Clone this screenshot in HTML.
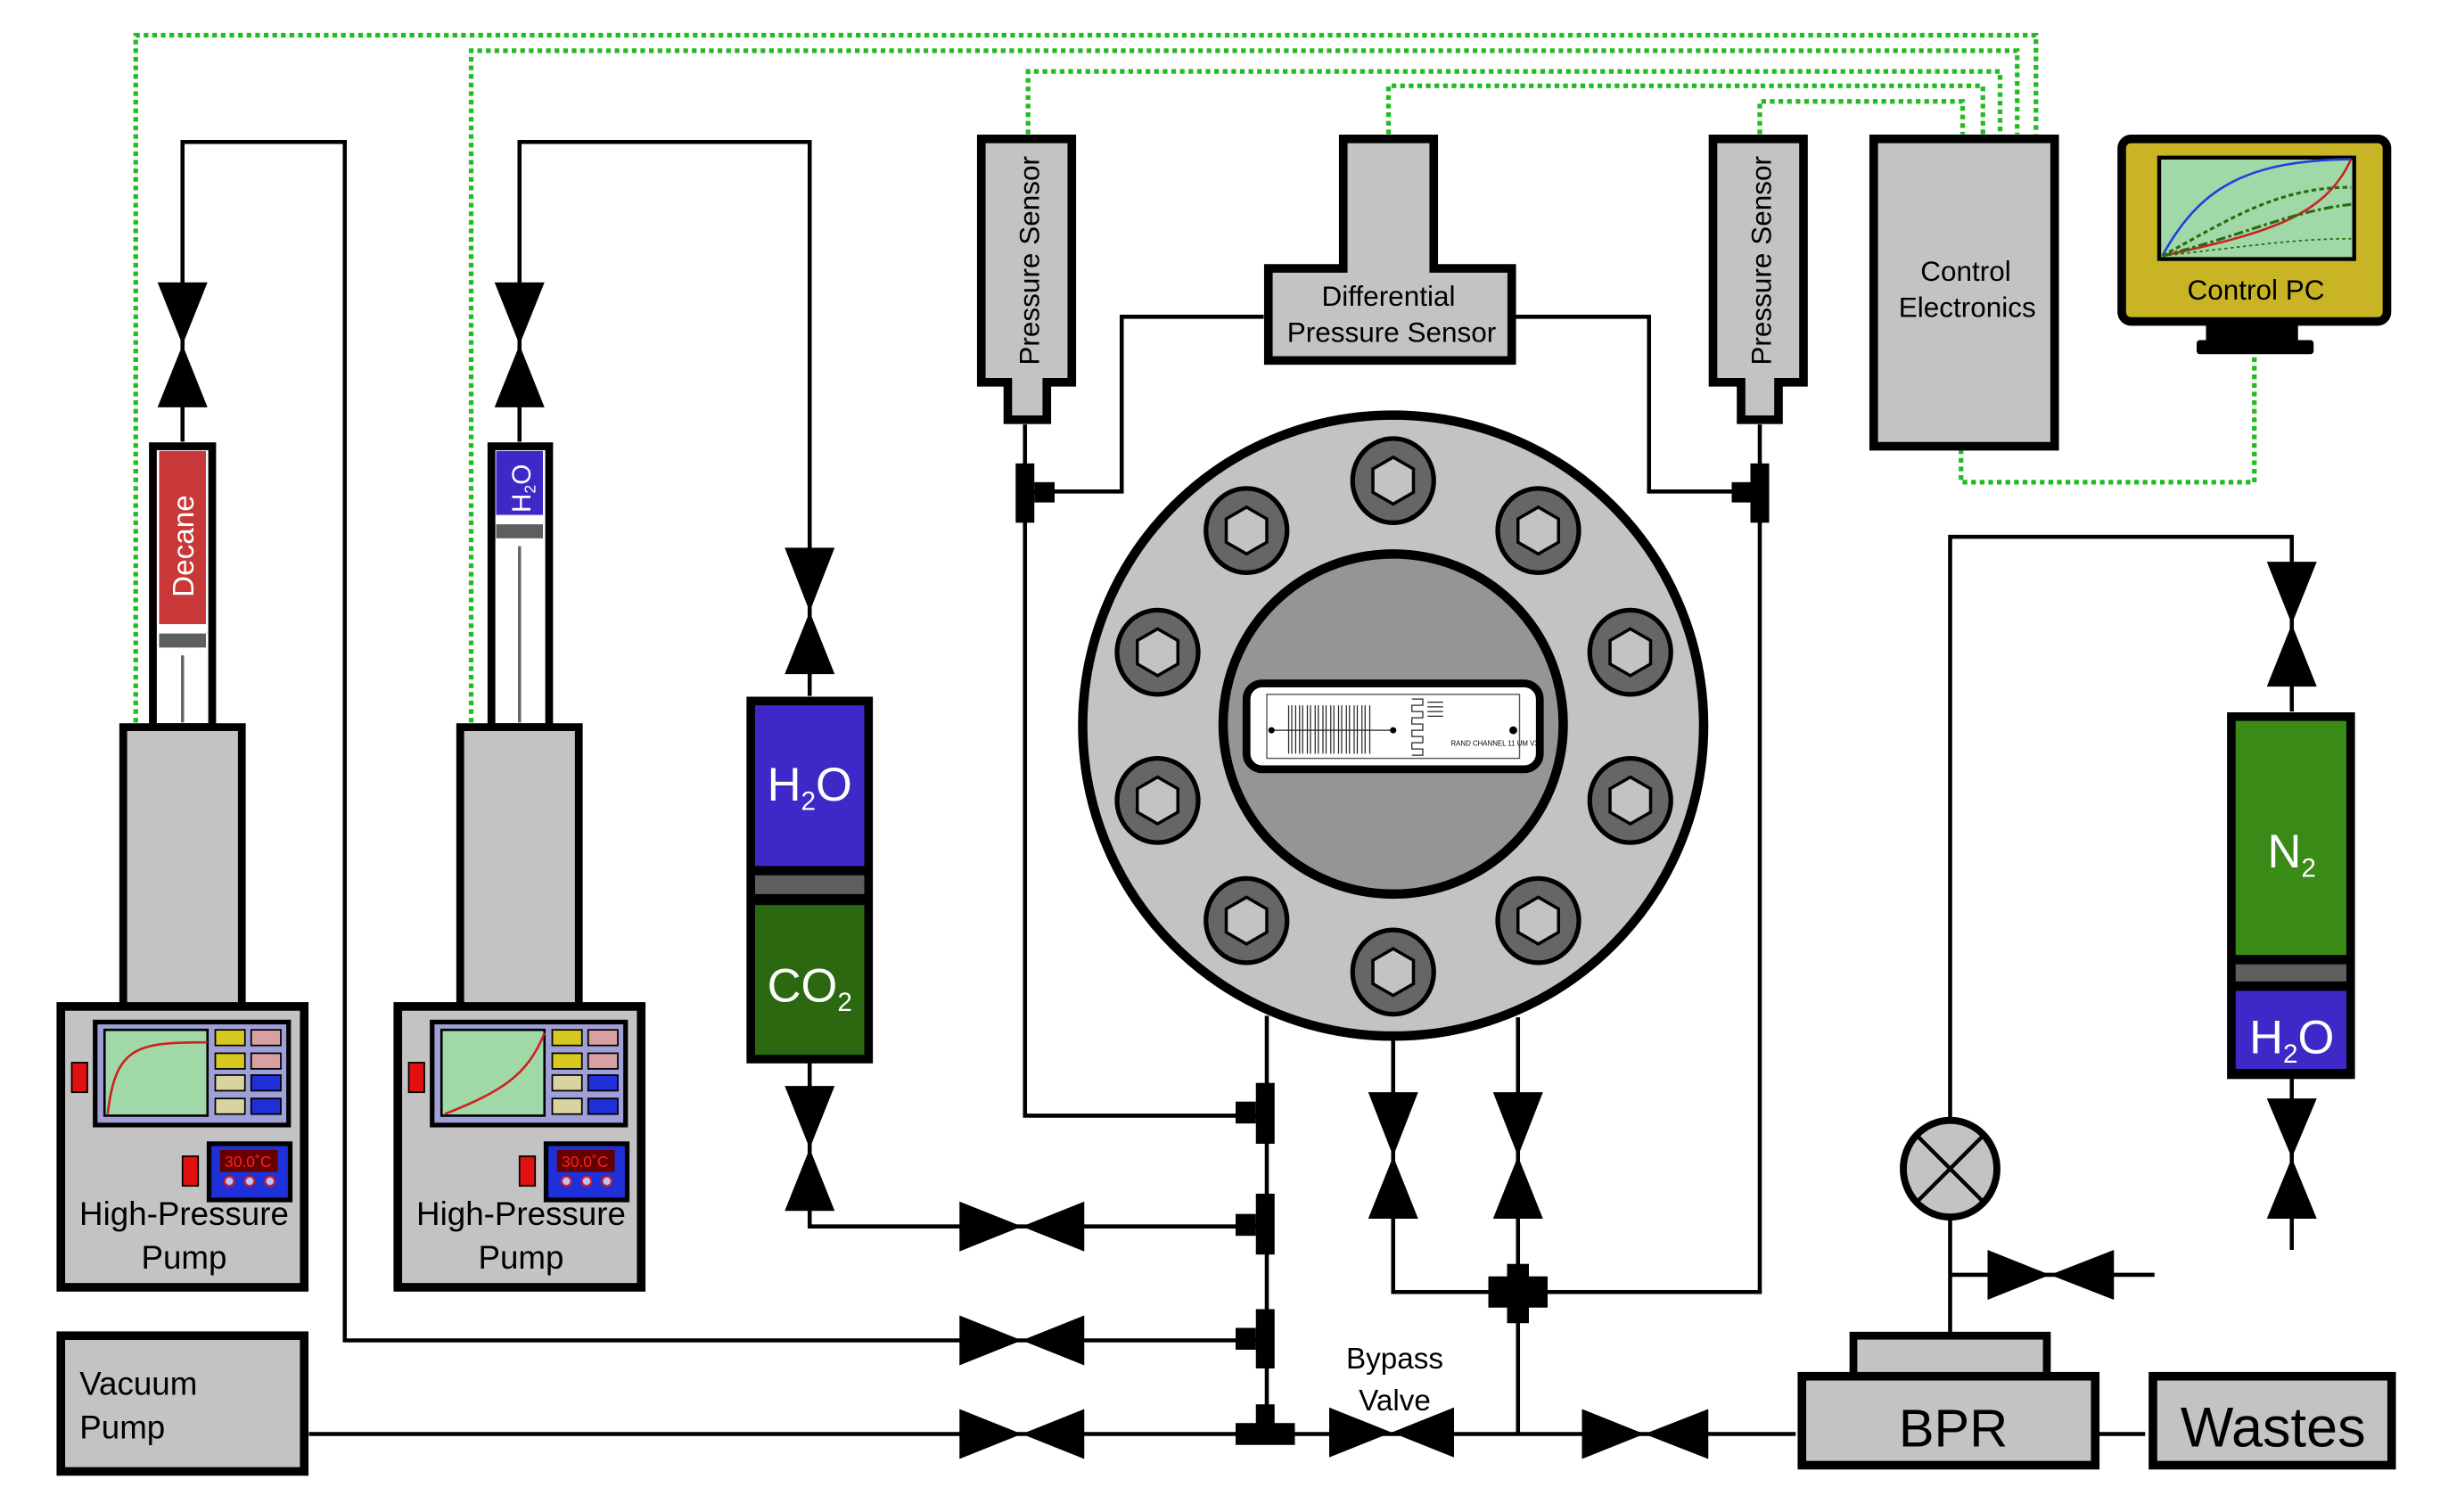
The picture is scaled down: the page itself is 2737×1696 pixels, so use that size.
<!DOCTYPE html>
<html><head><meta charset="utf-8"><style>
html,body{margin:0;padding:0;background:#fff;}
svg{display:block;}
text{font-family:"Liberation Sans",sans-serif;}
</style></head><body>
<svg width="2737" height="1696" viewBox="0 0 1564 969" preserveAspectRatio="none" xmlns="http://www.w3.org/2000/svg">
<defs>
<g id="bolt"><ellipse cx="0" cy="0" rx="26" ry="27" fill="#666" stroke="#000" stroke-width="3"/><polygon points="0,-15 13,-7.5 13,7.5 0,15 -13,7.5 -13,-7.5" fill="#c3c3c3" stroke="#000" stroke-width="2"/></g>
</defs>
<rect width="1564" height="969" fill="#fff"/>
<g fill="none" stroke="#22bb22" stroke-width="3" stroke-dasharray="3,2.5">
<polyline points="87,463 87,22.6 1305,22.6 1305,86"/>
<polyline points="302,463 302,32.5 1293,32.5 1293,86"/>
<polyline points="659,86 659,45.8 1282,45.8 1282,86"/>
<polyline points="890,86 890,55 1271,55 1271,86"/>
<polyline points="1128,86 1128,65 1258,65 1258,86"/>
<polyline points="1257,288 1257,309 1445,309 1445,229"/>
</g>
<g fill="none" stroke="#000" stroke-width="2.6">
<polyline points="117,283 117,91 221,91 221,859 812,859"/>
<polyline points="333,283 333,91 519,91 519,446"/>
<polyline points="519,680 519,786 812,786"/>
<polyline points="198,919 1151,919"/>
<line x1="1345" y1="919" x2="1375" y2="919"/>
<polyline points="657,272 657,715 812,715"/>
<polyline points="810,203 719,203 719,315 657,315"/>
<polyline points="971,203 1057,203 1057,315 1128,315"/>
<polyline points="1128,272 1128,828 973,828"/>
<line x1="812" y1="651" x2="812" y2="919"/>
<polyline points="893,660 893,828 973,828"/>
<line x1="973" y1="652" x2="973" y2="919"/>
<polyline points="1469,456 1469,344 1250,344 1250,855"/>
<line x1="1250" y1="817" x2="1381" y2="817"/>
<line x1="1469" y1="691" x2="1469" y2="801"/>
</g>
<g fill="#000">
<path d="M101,181 L133,181 L117,221 Z M101,261 L133,261 L117,221 Z"/>
<path d="M317,181 L349,181 L333,221 Z M317,261 L349,261 L333,221 Z"/>
<path d="M503,351 L535,351 L519,392 Z M503,432 L535,432 L519,392 Z"/>
<path d="M503,696 L535,696 L519,736 Z M503,776 L535,776 L519,736 Z"/>
<path d="M615,770 L615,802 L655,786 Z M695,770 L695,802 L655,786 Z"/>
<path d="M615,843 L615,875 L655,859 Z M695,843 L695,875 L655,859 Z"/>
<path d="M615,903 L615,935 L655,919 Z M695,903 L695,935 L655,919 Z"/>
<path d="M852,902 L852,934 L892,918 Z M932,902 L932,934 L892,918 Z"/>
<path d="M1014,903 L1014,935 L1054,919 Z M1095,903 L1095,935 L1054,919 Z"/>
<path d="M877,700 L909,700 L893,741 Z M877,781 L909,781 L893,741 Z"/>
<path d="M957,700 L989,700 L973,741 Z M957,781 L989,781 L973,741 Z"/>
<path d="M1453,360 L1485,360 L1469,400 Z M1453,440 L1485,440 L1469,400 Z"/>
<path d="M1453,704 L1485,704 L1469,742 Z M1453,781 L1485,781 L1469,742 Z"/>
<path d="M1274,801 L1274,833 L1314,817 Z M1355,801 L1355,833 L1314,817 Z"/>
<rect x="651" y="297" width="12" height="38"/><rect x="663" y="309" width="13" height="13"/>
<rect x="1122" y="297" width="12" height="38"/><rect x="1110" y="309" width="12" height="13"/>
<rect x="805" y="694" width="12" height="39"/><rect x="792" y="706" width="13" height="14"/>
<rect x="805" y="765" width="12" height="39"/><rect x="792" y="778" width="13" height="14"/>
<rect x="805" y="839" width="12" height="38"/><rect x="792" y="851" width="13" height="14"/>
<rect x="805" y="900" width="12" height="15"/><rect x="792" y="912" width="38" height="14"/>
<rect x="966" y="810" width="14" height="38"/><rect x="954" y="818" width="38" height="20"/>
</g>
<rect x="98" y="286" width="38" height="180" fill="#fff" stroke="#000" stroke-width="5"/>
<rect x="102" y="289" width="30" height="111" fill="#c83838"/>
<rect x="102" y="406" width="30" height="9" fill="#5e5e5e"/>
<line x1="117" y1="420" x2="117" y2="463" stroke="#666" stroke-width="2"/>
<text transform="translate(124,350) rotate(-90)" text-anchor="middle" font-size="19" fill="#fff">Decane</text>
<rect x="315" y="286" width="37" height="180" fill="#fff" stroke="#000" stroke-width="5"/>
<rect x="318" y="289" width="30" height="41" fill="#3f28c8"/>
<rect x="318" y="336" width="30" height="9" fill="#5e5e5e"/>
<line x1="333" y1="350" x2="333" y2="463" stroke="#666" stroke-width="2"/>
<text transform="translate(340,313) rotate(-90)" text-anchor="middle" font-size="17" fill="#fff">H<tspan font-size="10" dy="3">2</tspan><tspan dy="-3">O</tspan></text>
<rect x="79" y="466" width="76" height="180" fill="#c3c3c3" stroke="#000" stroke-width="5"/>
<rect x="295" y="466" width="76" height="180" fill="#c3c3c3" stroke="#000" stroke-width="5"/>
<g id="p1">
<rect x="39" y="645" width="156" height="180" fill="#c3c3c3" stroke="#000" stroke-width="5.5"/>
<rect x="61" y="655" width="124" height="66" fill="#a0a0d8" stroke="#000" stroke-width="3"/>
<rect x="67" y="660" width="66" height="55" fill="#a0d8a8" stroke="#000" stroke-width="1.5"/>
<rect x="138" y="660" width="19" height="10" fill="#d8c81e" stroke="#000" stroke-width="1"/>
<rect x="161" y="660" width="19" height="10" fill="#d8a0a0" stroke="#000" stroke-width="1"/>
<rect x="138" y="675" width="19" height="10" fill="#d8c81e" stroke="#000" stroke-width="1"/>
<rect x="161" y="675" width="19" height="10" fill="#d8a0a0" stroke="#000" stroke-width="1"/>
<rect x="138" y="689" width="19" height="10" fill="#d8d4a0" stroke="#000" stroke-width="1"/>
<rect x="161" y="689" width="19" height="10" fill="#2030d8" stroke="#000" stroke-width="1"/>
<rect x="138" y="704" width="19" height="10" fill="#d8d4a0" stroke="#000" stroke-width="1"/>
<rect x="161" y="704" width="19" height="10" fill="#2030d8" stroke="#000" stroke-width="1"/>
<rect x="46" y="681" width="10" height="19" fill="#e21010" stroke="#000" stroke-width="1"/>
<rect x="117" y="741" width="10" height="19" fill="#e21010" stroke="#000" stroke-width="1"/>
<rect x="134" y="733" width="52" height="36" fill="#2030d8" stroke="#000" stroke-width="3"/>
<rect x="141" y="737" width="37" height="14" fill="#600"/>
<text x="159" y="748" text-anchor="middle" font-size="10" fill="#ff2020">30.0˚C</text>
<circle cx="147" cy="757" r="3" fill="#c0c0ff" stroke="#d02020" stroke-width="1.2"/>
<circle cx="160" cy="757" r="3" fill="#c0c0ff" stroke="#d02020" stroke-width="1.2"/>
<circle cx="173" cy="757" r="3" fill="#c0c0ff" stroke="#d02020" stroke-width="1.2"/>
<text x="118" y="785" text-anchor="middle" font-size="21">High-Pressure</text>
<text x="118" y="813" text-anchor="middle" font-size="21">Pump</text>
</g>
<path d="M69,714 C74,670 88,668 133,668" fill="none" stroke="#d02020" stroke-width="1.5"/>
<use href="#p1" transform="translate(216,0)"/>
<path d="M285,714 C320,700 338,690 349,662" fill="none" stroke="#d02020" stroke-width="1.5"/>
<rect x="39" y="856" width="156" height="87" fill="#c3c3c3" stroke="#000" stroke-width="5.5"/>
<text x="51" y="894" font-size="21">Vacuum</text>
<text x="51" y="922" font-size="21">Pump</text>
<rect x="481" y="449" width="76" height="230" fill="#000" stroke="#000" stroke-width="5"/>
<rect x="484" y="452" width="70" height="103" fill="#3f28c8"/>
<rect x="484" y="561" width="70" height="12" fill="#5e5e5e"/>
<rect x="484" y="580" width="70" height="96" fill="#2c6810"/>
<text x="519" y="513" text-anchor="middle" font-size="30" fill="#fff">H<tspan font-size="17" dy="6">2</tspan><tspan dy="-6">O</tspan></text>
<text x="519" y="642" text-anchor="middle" font-size="30" fill="#fff">CO<tspan font-size="17" dy="6">2</tspan></text>
<rect x="1430" y="459" width="77" height="230" fill="#000" stroke="#000" stroke-width="5"/>
<rect x="1433" y="462" width="71" height="150" fill="#3a8a18"/>
<rect x="1433" y="618" width="71" height="11" fill="#5e5e5e"/>
<rect x="1433" y="635" width="71" height="50" fill="#3f28c8"/>
<text x="1469" y="556" text-anchor="middle" font-size="30" fill="#fff">N<tspan font-size="17" dy="6">2</tspan></text>
<text x="1469" y="675" text-anchor="middle" font-size="30" fill="#fff">H<tspan font-size="17" dy="6">2</tspan><tspan dy="-6">O</tspan></text>
<path d="M629,89 L687,89 L687,245 L671,245 L671,269 L646,269 L646,245 L629,245 Z" fill="#c3c3c3" stroke="#000" stroke-width="5.5"/>
<text transform="translate(666,167) rotate(-90)" text-anchor="middle" font-size="18">Pressure Sensor</text>
<path d="M1098,89 L1156,89 L1156,245 L1140,245 L1140,269 L1116,269 L1116,245 L1098,245 Z" fill="#c3c3c3" stroke="#000" stroke-width="5.5"/>
<text transform="translate(1135,167) rotate(-90)" text-anchor="middle" font-size="18">Pressure Sensor</text>
<path d="M861,89 L919,89 L919,172 L969,172 L969,231 L813,231 L813,172 L861,172 Z" fill="#c3c3c3" stroke="#000" stroke-width="5.5"/>
<text x="890" y="196" text-anchor="middle" font-size="18">Differential</text>
<text x="892" y="219" text-anchor="middle" font-size="18">Pressure Sensor</text>
<rect x="1201" y="89" width="116" height="197" fill="#c3c3c3" stroke="#000" stroke-width="5.5"/>
<text x="1260" y="180" text-anchor="middle" font-size="18">Control</text>
<text x="1261" y="203" text-anchor="middle" font-size="18">Electronics</text>
<rect x="1360" y="89" width="170" height="117" rx="6" fill="#c8b424" stroke="#000" stroke-width="5.5"/>
<rect x="1384" y="101" width="125" height="65" fill="#a0d8a8" stroke="#000" stroke-width="2.5"/>
<path d="M1386,164 C1410,120 1440,103 1507,102" fill="none" stroke="#2040e0" stroke-width="1.5"/>
<path d="M1386,164 C1450,150 1490,140 1507,102" fill="none" stroke="#d02020" stroke-width="1.5"/>
<path d="M1386,164 C1430,140 1460,120 1507,120" fill="none" stroke="#2a6a10" stroke-width="1.8" stroke-dasharray="3,2"/>
<path d="M1386,164 C1440,150 1470,135 1507,131" fill="none" stroke="#2a6a10" stroke-width="1.8" stroke-dasharray="6,2,2,2"/>
<path d="M1386,164 C1440,158 1470,153 1507,153" fill="none" stroke="#2a6a10" stroke-width="1" stroke-dasharray="2,2"/>
<text x="1446" y="192" text-anchor="middle" font-size="18">Control PC</text>
<rect x="1414" y="208" width="59" height="11" fill="#000"/>
<rect x="1408" y="218" width="75" height="9" rx="2" fill="#000"/>
<circle cx="893" cy="465" r="199" fill="#c3c3c3" stroke="#000" stroke-width="6"/>
<circle cx="893" cy="464" r="109" fill="#959595" stroke="#000" stroke-width="6"/>
<use href="#bolt" x="893" y="308"/>
<use href="#bolt" x="986" y="340"/>
<use href="#bolt" x="1045" y="418"/>
<use href="#bolt" x="1045" y="513"/>
<use href="#bolt" x="986" y="590"/>
<use href="#bolt" x="893" y="623"/>
<use href="#bolt" x="799" y="590"/>
<use href="#bolt" x="742" y="513"/>
<use href="#bolt" x="742" y="418"/>
<use href="#bolt" x="799" y="340"/>
<rect x="799" y="438" width="188" height="55" rx="10" fill="#fff" stroke="#000" stroke-width="5"/>
<rect x="812" y="445" width="162" height="41" fill="none" stroke="#555" stroke-width="0.8"/>
<g stroke="#222" stroke-width="0.7">
<line x1="826" y1="452" x2="826" y2="483"/><line x1="828" y1="452" x2="828" y2="483"/><line x1="830.5" y1="452" x2="830.5" y2="483"/><line x1="833" y1="452" x2="833" y2="483"/><line x1="835" y1="452" x2="835" y2="483"/><line x1="838" y1="452" x2="838" y2="483"/><line x1="840" y1="452" x2="840" y2="483"/><line x1="843" y1="452" x2="843" y2="483"/><line x1="845" y1="452" x2="845" y2="483"/><line x1="848" y1="452" x2="848" y2="483"/><line x1="850" y1="452" x2="850" y2="483"/><line x1="853" y1="452" x2="853" y2="483"/><line x1="855" y1="452" x2="855" y2="483"/><line x1="858" y1="452" x2="858" y2="483"/><line x1="860" y1="452" x2="860" y2="483"/><line x1="863" y1="452" x2="863" y2="483"/><line x1="865" y1="452" x2="865" y2="483"/><line x1="868" y1="452" x2="868" y2="483"/><line x1="870" y1="452" x2="870" y2="483"/><line x1="873" y1="452" x2="873" y2="483"/><line x1="875" y1="452" x2="875" y2="483"/><line x1="878" y1="452" x2="878" y2="483"/>
<line x1="815" y1="468" x2="893" y2="468"/>
<path d="M905,448 h7 v4 h-7 v4 h7 v4 h-7 v4 h7 v4 h-7 v4 h7 v4 h-7 v4 h7 v4 h-7" fill="none"/>
<line x1="915" y1="450" x2="925" y2="450"/><line x1="915" y1="453" x2="925" y2="453"/><line x1="915" y1="456" x2="925" y2="456"/><line x1="915" y1="459" x2="925" y2="459"/>
</g>
<circle cx="815" cy="468" r="2" fill="#000"/><circle cx="893" cy="468" r="2" fill="#000"/><circle cx="970" cy="468" r="2.5" fill="#000"/>
<text x="930" y="478" font-size="4.5">RAND CHANNEL 11 UM V3</text>
<ellipse cx="1250" cy="749" rx="30" ry="31" fill="#c3c3c3" stroke="#000" stroke-width="4.5"/>
<line x1="1229" y1="728" x2="1271" y2="770" stroke="#000" stroke-width="2.5"/>
<line x1="1271" y1="728" x2="1229" y2="770" stroke="#000" stroke-width="2.5"/>
<rect x="1188" y="856" width="124" height="27" fill="#c3c3c3" stroke="#000" stroke-width="5"/>
<rect x="1155" y="882" width="188" height="57" fill="#c3c3c3" stroke="#000" stroke-width="5.5"/>
<text x="1252" y="927" text-anchor="middle" font-size="34">BPR</text>
<rect x="1380" y="882" width="153" height="57" fill="#c3c3c3" stroke="#000" stroke-width="5.5"/>
<text x="1457" y="927" text-anchor="middle" font-size="36">Wastes</text>
<text x="894" y="877" text-anchor="middle" font-size="19">Bypass</text>
<text x="894" y="904" text-anchor="middle" font-size="19">Valve</text>
</svg>
</body></html>
